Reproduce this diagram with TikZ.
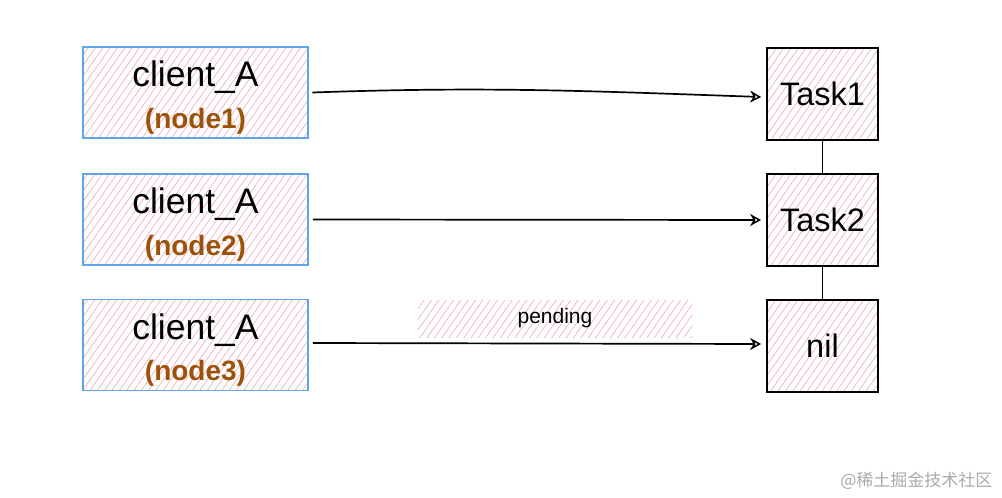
\documentclass[tikz,border=0pt]{standalone}
\usepackage{fontspec}
\setmainfont{Liberation Sans}
\newfontfamily\cjk{Noto Sans CJK SC}
\usetikzlibrary{arrows.meta,patterns.meta}
\definecolor{hatchpink}{RGB}{240,175,195}
\definecolor{clientblue}{RGB}{95,165,232}
\definecolor{nodebrown}{RGB}{156,82,10}
\definecolor{wmgray}{RGB}{170,170,170}
\tikzset{
  hatch/.style={pattern={Lines[angle=55,distance=6pt,line width=0.7pt]},pattern color=hatchpink},
  clientbox/.style={draw=clientblue,line width=1.8pt,hatch,minimum width=225pt,minimum height=91pt,inner sep=0pt,align=center},
  taskbox/.style={draw=black,line width=1.8pt,hatch,minimum width=111pt,minimum height=92pt,inner sep=0pt,font=\fontsize{32.5}{32.5}\selectfont},
  conn/.style={line width=1.7pt,-{Stealth[open,length=11pt,width=12pt,line width=1.5pt]}},
  link/.style={line width=1.7pt},
}
\newcommand{\clienttext}[1]{{\fontsize{35.5}{35.5}\selectfont\rule{0pt}{36pt}client\_A}\\[13pt]{\fontsize{28}{28}\selectfont\bfseries\color{nodebrown}(#1)}}
\begin{document}
\begin{tikzpicture}[x=1pt,y=-1pt]
\useasboundingbox (0,0) rectangle (1002,498);
\node[clientbox] (c1) at (195.5,92.5) {\clienttext{node1}};
\node[clientbox] (c2) at (195.5,219.5) {\clienttext{node2}};
\node[clientbox] (c3) at (195.5,345) {\clienttext{node3}};
\node[taskbox] (t1) at (822.5,94) {Task1};
\node[taskbox] (t2) at (822.5,220) {Task2};
\node[taskbox] (t3) at (822.5,346) {nil};
\node[hatch,minimum width=274pt,minimum height=37pt,inner sep=0pt,font=\fontsize{21}{21}\selectfont] (pend) at (555,318.5) {pending};
\node[anchor=east,text=wmgray,font=\cjk\fontsize{17}{17}\selectfont] (wm) at (996,481) {@稀土掘金技术社区};
\draw[conn] ([xshift=4pt,yshift=0pt]c1.east) to[out=2,in=178] ([xshift=-5pt,yshift=-3pt]t1.west);
\draw[conn] ([xshift=4pt]c2.east) -- ([xshift=-5pt]t2.west);
\draw[conn] ([xshift=4pt,yshift=2pt]c3.east) -- ([xshift=-5pt,yshift=2pt]t3.west);
\draw[link] (t1.south) -- (t2.north);
\draw[link] (t2.south) -- (t3.north);
\end{tikzpicture}
\end{document}
